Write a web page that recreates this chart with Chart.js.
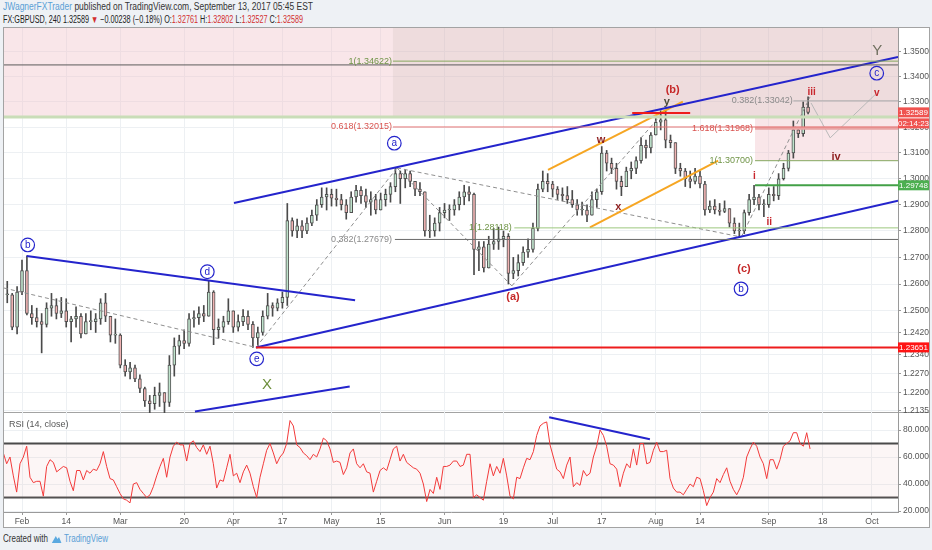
<!DOCTYPE html>
<html>
<head>
<meta charset="utf-8">
<title>GBPUSD 240</title>
<script src="https://cdn.jsdelivr.net/npm/chart.js@4.4.1/dist/chart.umd.min.js"></script>
<style>
  html, body { margin:0; padding:0; }
  body { width:932px; height:550px; overflow:hidden; background:#eef1f5; position:relative; font-family:"Liberation Sans", Arial, sans-serif; }
  .hdr { position:absolute; left:3px; white-space:nowrap; font-size:10px; line-height:12px; color:#333; transform-origin:0 50%; }
  #h1 { top:1px; }
  #h2 { top:14px; color:#222; }
  .blue { color:#5a9fd6; }
  .red { color:#d32f2f; }
  #frame { position:absolute; left:3px; top:27px; width:925px; height:499px; background:#fff; border:1px solid #a3a3a3; }
  #sep { position:absolute; left:3px; top:412px; width:926px; height:1px; background:#a3a3a3; }
  canvas { position:absolute; left:0; }
  #main { top:28px; }
  #rsi { top:413px; }
  #foot { position:absolute; left:3px; top:533px; font-size:10px; line-height:12px; color:#333; white-space:nowrap; transform-origin:0 50%; }
  #foot svg { vertical-align:-2px; margin:0 2px 0 4px; }
</style>
</head>
<body>
<div id="h1" class="hdr"><span class="blue">JWagnerFXTrader</span> published on TradingView.com, September 13, 2017 05:45 EST</div>
<div id="h2" class="hdr">FX:GBPUSD, 240 1.32589 <span class="red">&#9660;</span> &minus;0.00238 (&minus;0.18%) O:<span class="red">1.32761</span> H:<span class="red">1.32802</span> L:<span class="red">1.32527</span> C:<span class="red">1.32589</span></div>
<div id="frame"></div>
<div id="sep"></div>
<canvas id="main" width="929" height="385"></canvas>
<canvas id="rsi" width="929" height="114"></canvas>
<div id="foot">Created with<svg width="14" height="10" viewBox="0 0 14 10"><path d="M1 9 L6 2 L8 5 L10 3 L13 9 Z" fill="#5aa9e0"/></svg><span class="blue">TradingView</span></div>
<script>
// ---------------- DATA ----------------
// Daily bars (trading-day index, 0 = 1 Feb 2017)
const firstDay = -3;
const highs = [
1.2610,1.2565,1.2590,1.2690,1.2706,1.2520,1.2510,1.2490,1.2530,1.2565,
1.2545,1.2550,1.2545,1.2480,1.2515,1.2490,1.2490,1.2500,1.2490,1.2545,
1.2565,1.2480,1.2470,1.2415,1.2320,1.2310,1.2300,1.2265,1.2220,1.2190,
1.2220,1.2235,1.2200,1.2335,1.2400,1.2410,1.2430,1.2490,1.2500,1.2515,
1.2520,1.2610,1.2575,1.2470,1.2480,1.2545,1.2500,1.2485,1.2505,1.2500,
1.2460,1.2440,1.2500,1.2565,1.2530,1.2545,1.2570,1.2905,1.2850,1.2845,
1.2840,1.2850,1.2880,1.2920,1.2965,1.2965,1.2960,1.2960,1.2940,1.2920,
1.2950,1.2975,1.2970,1.2960,1.2950,1.2940,1.2945,1.2960,1.2985,1.3040,
1.3030,1.3035,1.3030,1.2990,1.2985,1.2950,1.2860,1.2850,1.2890,1.2905,
1.2900,1.2920,1.2950,1.2975,1.2970,1.2945,1.2760,1.2760,1.2780,1.2810,
1.2815,1.2800,1.2790,1.2700,1.2710,1.2740,1.2770,1.2830,1.2980,1.3030,
1.3020,1.2990,1.2970,1.2965,1.2970,1.2955,1.2920,1.2910,1.2900,1.2950,
1.2960,1.3125,1.3110,1.3080,1.3060,1.3010,1.3045,1.3065,1.3085,1.3160,
1.3150,1.3180,1.3240,1.3265,1.3267,1.3170,1.3110,1.3060,1.3040,1.3030,
1.3040,1.3030,1.2990,1.2915,1.2920,1.2905,1.2915,1.2880,1.2850,1.2830,
1.2880,1.2940,1.2975,1.2940,1.2920,1.2965,1.2970,1.3020,1.3060,1.3110,
1.3225,1.3200,1.3300,1.3320
];
const lows = [
1.2530,1.2430,1.2415,1.2560,1.2485,1.2450,1.2440,1.2345,1.2440,1.2480,
1.2470,1.2475,1.2440,1.2385,1.2440,1.2400,1.2420,1.2430,1.2420,1.2450,
1.2460,1.2385,1.2380,1.2290,1.2260,1.2250,1.2240,1.2200,1.2150,1.2120,
1.2140,1.2150,1.2115,1.2150,1.2260,1.2340,1.2360,1.2370,1.2440,1.2450,
1.2460,1.2490,1.2375,1.2400,1.2420,1.2450,1.2420,1.2425,1.2445,1.2430,
1.2365,1.2370,1.2410,1.2470,1.2480,1.2500,1.2510,1.2520,1.2780,1.2775,
1.2775,1.2790,1.2820,1.2840,1.2890,1.2880,1.2895,1.2895,1.2880,1.2845,
1.2870,1.2910,1.2905,1.2890,1.2860,1.2865,1.2880,1.2895,1.2910,1.2950,
1.2905,1.2965,1.2970,1.2935,1.2935,1.2780,1.2775,1.2780,1.2800,1.2850,
1.2840,1.2860,1.2880,1.2900,1.2915,1.2635,1.2650,1.2645,1.2680,1.2730,
1.2730,1.2740,1.2600,1.2620,1.2630,1.2670,1.2700,1.2720,1.2800,1.2950,
1.2950,1.2930,1.2920,1.2915,1.2905,1.2890,1.2860,1.2860,1.2835,1.2860,
1.2890,1.2940,1.3030,1.3020,1.2960,1.2935,1.2980,1.3000,1.3020,1.3060,
1.3080,1.3100,1.3180,1.3190,1.3120,1.3120,1.3020,1.3010,1.2970,1.2965,
1.2980,1.2965,1.2860,1.2870,1.2865,1.2860,1.2870,1.2815,1.2790,1.2775,
1.2790,1.2860,1.2900,1.2880,1.2855,1.2890,1.2915,1.2920,1.2995,1.3030,
1.3080,1.3160,1.3165,1.3253
];
const closes = [
1.2560,1.2440,1.2570,1.2650,1.2490,1.2475,1.2460,1.2450,1.2510,1.2520,
1.2490,1.2500,1.2460,1.2470,1.2480,1.2415,1.2460,1.2460,1.2470,1.2530,
1.2480,1.2410,1.2410,1.2300,1.2275,1.2290,1.2250,1.2215,1.2170,1.2160,
1.2190,1.2200,1.2165,1.2300,1.2370,1.2390,1.2380,1.2470,1.2475,1.2490,
1.2480,1.2570,1.2430,1.2440,1.2460,1.2500,1.2440,1.2460,1.2480,1.2450,
1.2400,1.2420,1.2480,1.2520,1.2510,1.2530,1.2550,1.2840,1.2800,1.2820,
1.2800,1.2830,1.2860,1.2900,1.2930,1.2940,1.2925,1.2920,1.2900,1.2870,
1.2930,1.2955,1.2935,1.2910,1.2920,1.2880,1.2920,1.2940,1.2970,1.3020,
1.3000,1.3020,1.2990,1.2960,1.2950,1.2800,1.2800,1.2830,1.2870,1.2880,
1.2880,1.2900,1.2930,1.2950,1.2940,1.2730,1.2740,1.2660,1.2750,1.2760,
1.2770,1.2780,1.2640,1.2650,1.2680,1.2720,1.2730,1.2810,1.2960,1.2990,
1.2980,1.2960,1.2940,1.2935,1.2920,1.2900,1.2880,1.2880,1.2860,1.2920,
1.2950,1.3100,1.3060,1.3040,1.2990,1.2970,1.3030,1.3040,1.3070,1.3130,
1.3120,1.3170,1.3220,1.3230,1.3150,1.3140,1.3040,1.3030,1.3000,1.2990,
1.3010,1.2980,1.2880,1.2895,1.2880,1.2875,1.2885,1.2830,1.2800,1.2800,
1.2870,1.2920,1.2930,1.2900,1.2900,1.2940,1.2935,1.3000,1.3040,1.3100,
1.3190,1.3175,1.3280,1.3259
];
// RSI(14) samples, read along the pane
const rsiStartDay = -3.8;
const rsiStepDays = 0.6785;
const rsiValues = [
63,55,60,46,34,55,60,68,45,41,
42,42,31,53,58,56,49,51,53,52,
42,35,50,50,43,50,48,51,50,55,
64,53,44,43,38,33,29,28,26,40,
41,36,33,30,32,38,46,53,59,45,
60,68,71,69,69,57,70,72,67,64,
69,62,68,55,37,43,42,52,62,46,
48,41,49,54,48,38,30,45,55,65,
70,63,55,60,63,70,87,83,69,67,
63,61,58,62,60,66,74,72,66,56,
57,56,47,52,63,66,55,52,55,49,
48,34,42,50,52,50,58,66,68,57,
62,56,
54,52,51,48,40,27,36,33,45,36,
53,53,54,57,57,53,54,62,62,30,
32,30,28,42,55,46,53,48,59,46,
31,29,45,44,52,59,58,64,76,83,
85,86,69,60,51,49,44,54,60,38,
41,39,50,46,48,60,68,80,76,68,
55,54,51,38,48,55,52,66,54,70,
70,55,56,65,71,64,64,65,44,37,
34,34,32,36,40,38,45,44,35,24,
30,34,44,41,47,52,42,36,32,37,
45,60,66,71,68,60,55,44,58,58,
51,58,68,70,72,78,78,70,68,78,
66
];
// Axis ticks
const timeTickDays = [0,9,20,33,43,53,63,73,86,98,108,118,129,138,152,163,173];
const timeTickLabels = ['Feb','14','Mar','20','Apr','17','May','15','Jun','19','Jul','17','Aug','14','Sep','18','Oct'];
const priceTicks = [1.35,1.34,1.33,1.32,1.31,1.30,1.29,1.28,1.27,1.26,1.25,1.242,1.234,1.227,1.22,1.2135];
const rsiTicks = [20,40,60,80];
const dayMin = -3.664, dayMax = 178.3;
const priceMin = 1.21265, priceMax = 1.35953;
const rsiMin = 19.26, rsiMax = 92.6;

// Drawings (day index, price)
const trendLines = [
  {kind:'channel', pts:[[43.15,1.2907],[178.3,1.3479]]},
  {kind:'channel', pts:[[47.63,1.2365],[178.3,1.2916]]},
  {kind:'channel', pts:[[0.96,1.2705],[67.8,1.2539]]},
  {kind:'channel', pts:[[35.2,1.2132],[66.7,1.2222]]},
  {kind:'orange', pts:[[107.06,1.3034],[134.5,1.3301]]},
  {kind:'orange', pts:[[115.6,1.2814],[141.7,1.3070]]},
  {kind:'dashed', pts:[[-3.66,1.2585],[47.63,1.2365]]},
  {kind:'dashed', pts:[[47.63,1.2365],[76.33,1.3042]]},
  {kind:'dashed', pts:[[76.33,1.3042],[146.4,1.2777]]},
  {kind:'dashed', pts:[[76.33,1.3042],[99.7,1.2593]]},
  {kind:'dashed', pts:[[99.7,1.2593],[130.9,1.3267]]},
  {kind:'dashed', pts:[[146.4,1.2777],[160.4,1.3320]]},
  {kind:'projection', pts:[[160.6,1.3296],[164.5,1.3159],[173.6,1.3328]]}
];
const levels = [
  {kind:'dark', from:dayMin, price:1.3447},
  {kind:'band', from:dayMin, price:1.3241},
  {kind:'fibOlive', from:75.5, price:1.34622},
  {kind:'fibRed', from:75.5, price:1.32015},
  {kind:'fibDark', from:75.9, price:1.27679},
  {kind:'fibGreen', from:100.2, price:1.28118},
  {kind:'fibGray', from:157.0, price:1.33042},
  {kind:'fibRedThick', from:149.2, price:1.31968},
  {kind:'fibOlive', from:149.2, price:1.30700},
  {kind:'green', from:149.2, price:1.29748},
  {kind:'red', from:47.63, price:1.23651},
  {kind:'red', from:124.2, to:136.0, price:1.32565}
];
const zones = [
  {kind:'pink', d0:dayMin, d1:dayMax, p0:1.3241, p1:priceMax},
  {kind:'shade', d0:75.5, d1:dayMax, p0:1.3241, p1:priceMax},
  {kind:'pink', d0:149.2, d1:dayMax, p0:1.3070, p1:1.3241}
];
const fibLabels = [
  {text:'1(1.34622)', day:75.3, price:1.34622, kind:'olive'},
  {text:'0.618(1.32015)', day:75.3, price:1.32015, kind:'red'},
  {text:'0.382(1.27679)', day:75.3, price:1.27679, kind:'gray'},
  {text:'1(1.28118)', day:99.7, price:1.28118, kind:'olive'},
  {text:'0.382(1.33042)', day:156.9, price:1.33042, kind:'gray'},
  {text:'1.618(1.31968)', day:148.8, price:1.31968, kind:'red'},
  {text:'1(1.30700)', day:148.8, price:1.30700, kind:'olive'}
];
const waveLabels = [
  {text:'b', kind:'circle', day:1.16, price:1.2747},
  {text:'d', kind:'circle', day:37.72, price:1.2646},
  {text:'e', kind:'circle', day:47.77, price:1.2323},
  {text:'a', kind:'circle', day:75.78, price:1.3138},
  {text:'b', kind:'circle', day:146.35, price:1.2582},
  {text:'c', kind:'circle', day:173.97, price:1.3414},
  {text:'(a)', kind:'paren', day:99.94, price:1.2552},
  {text:'(b)', kind:'paren', day:132.44, price:1.3349},
  {text:'(c)', kind:'paren', day:146.96, price:1.2656},
  {text:'y', kind:'dark', day:131.22, price:1.3300},
  {text:'w', kind:'minor', day:117.85, price:1.3151},
  {text:'x', kind:'minor', day:121.37, price:1.2893},
  {text:'i', kind:'roman', day:149.05, price:1.3011},
  {text:'ii', kind:'roman', day:152.1, price:1.2832},
  {text:'iii', kind:'roman', day:160.74, price:1.3338},
  {text:'iv', kind:'minor', day:165.68, price:1.3084},
  {text:'v', kind:'roman', day:173.97, price:1.3334},
  {text:'Y', kind:'bigGray', day:174.1, price:1.3502},
  {text:'X', kind:'bigGreen', day:49.87, price:1.2228}
];
const axisBadges = [
  {text:'1.32589', price:1.32589, kind:'last', sub:'02:14:23'},
  {text:'1.29748', price:1.29748, kind:'green'},
  {text:'1.23651', price:1.23651, kind:'red'}
];
const rsiLevels = [70, 30];
const rsiTrend = [[107.3, 89.4], [127.8, 73.1]];

// ---------------- STYLES ----------------
const FONT = '"Liberation Sans", Arial, sans-serif';
Chart.defaults.font.family = FONT;
const lineStyles = {
  channel:{color:'#2424cc', width:2},
  orange:{color:'#f6a623', width:2},
  dashed:{color:'#8f8f8f', width:1, dash:[4,3]},
  projection:{color:'#b8b8b8', width:1},
  dark:{color:'#5c5c5c', width:1},
  band:{color:'#c9ddb8', width:3},
  fibOlive:{color:'#86a85f', width:1},
  fibGreen:{color:'#9cc77e', width:1},
  fibRed:{color:'#e57373', width:1},
  fibRedThick:{color:'#e9a3a3', width:3},
  fibGray:{color:'#a8a8a8', width:1},
  fibDark:{color:'#6a6a6a', width:1},
  green:{color:'#43a047', width:2},
  red:{color:'#ee1c1c', width:2}
};
const zoneColors = { pink:'rgba(240,196,202,0.42)', shade:'rgba(150,140,120,0.10)' };
const fibColors = { olive:'#6f9447', red:'#d9534f', gray:'#8a8a8a' };
const waveStyles = {
  paren:{color:'#c62828', font:'bold 11px '+FONT},
  minor:{color:'#8e1f1f', font:'bold 11px '+FONT},
  roman:{color:'#c8262d', font:'bold 10px '+FONT},
  dark:{color:'#4a4a3a', font:'bold 11px '+FONT},
  bigGray:{color:'#707060', font:'15px '+FONT},
  bigGreen:{color:'#6d8f3c', font:'15px '+FONT},
  circle:{color:'#2424cc', font:'10px '+FONT}
};
const badgeColors = { last:'#ef5350', green:'#4caf50', red:'#ff1414' };
const GRID = '#edf0f3';

// ---------------- BUILD ----------------
const candleDays = closes.map((_, i) => firstDay + i);
const opens = closes.map((c, i) => (i === 0 ? c : closes[i - 1]));
const wickData = candleDays.map((d, i) => ({x:d, y:[Math.min(lows[i], opens[i], closes[i]), Math.max(highs[i], opens[i], closes[i])]}));
const bodyData = candleDays.map((d, i) => ({x:d, y:[opens[i], closes[i]]}));
const bodyFill = closes.map((c, i) => c >= opens[i] ? '#bfe3cc' : '#f0b3b3');

function lineDS(pts, st, yAxis) {
  return {type:'line', data:pts.map(p => ({x:p[0], y:p[1]})), borderColor:st.color, borderWidth:st.width,
    borderDash:st.dash || [], pointRadius:0, tension:0, fill:false, order:1, yAxisID:yAxis || 'y'};
}
const mainSets = [];
levels.forEach(l => mainSets.push(lineDS([[l.from, l.price], [l.to !== undefined ? l.to : dayMax, l.price]], lineStyles[l.kind])));
trendLines.forEach(t => mainSets.push(lineDS(t.pts, lineStyles[t.kind])));
mainSets.push({type:'bar', data:bodyData, backgroundColor:bodyFill, borderColor:'#505050', borderWidth:1, borderSkipped:false,
  barThickness:3, grouped:false, minBarLength:1, order:5});
mainSets.push({type:'bar', data:wickData, backgroundColor:'#4a4a4a', barThickness:1, grouped:false, order:6});

const annotPlugin = {
  id:'annot',
  beforeDatasetsDraw(chart) {
    const {ctx, chartArea:a, scales:{x, y}} = chart;
    ctx.save();
    ctx.beginPath(); ctx.rect(a.left, a.top, a.width, a.height); ctx.clip();
    zones.forEach(z => {
      const x0 = x.getPixelForValue(z.d0), x1 = x.getPixelForValue(z.d1);
      const y0 = y.getPixelForValue(z.p1), y1 = y.getPixelForValue(z.p0);
      ctx.fillStyle = zoneColors[z.kind];
      ctx.fillRect(x0, y0, x1 - x0, y1 - y0);
    });
    ctx.restore();
  },
  afterDatasetsDraw(chart) {
    const {ctx, chartArea:a, scales:{x, y}} = chart;
    ctx.save();
    ctx.beginPath(); ctx.rect(a.left, a.top, a.width, a.height); ctx.clip();
    ctx.textBaseline = 'middle';
    ctx.font = '9px ' + FONT;
    ctx.textAlign = 'right';
    fibLabels.forEach(f => {
      ctx.fillStyle = fibColors[f.kind];
      ctx.fillText(f.text, x.getPixelForValue(f.day), y.getPixelForValue(f.price));
    });
    ctx.textAlign = 'center';
    waveLabels.forEach(w => {
      const st = waveStyles[w.kind];
      const px = x.getPixelForValue(w.day), py = y.getPixelForValue(w.price);
      if (w.kind === 'circle') {
        ctx.beginPath(); ctx.arc(px, py, 6.8, 0, Math.PI * 2);
        ctx.strokeStyle = st.color; ctx.lineWidth = 1.2; ctx.stroke();
        ctx.fillStyle = st.color; ctx.font = st.font;
        ctx.fillText(w.text, px, py + 0.5);
      } else {
        ctx.fillStyle = st.color; ctx.font = st.font;
        ctx.fillText(w.text, px, py);
      }
    });
    ctx.restore();
  },
  afterDraw(chart) {
    const {ctx, chartArea:a, scales:{y}} = chart;
    ctx.save();
    ctx.font = '8px ' + FONT;
    ctx.textBaseline = 'middle';
    ctx.textAlign = 'center';
    const cx = (a.right + chart.width) / 2;
    axisBadges.forEach(b => {
      const py = y.getPixelForValue(b.price);
      ctx.fillStyle = badgeColors[b.kind];
      ctx.fillRect(a.right, py - 5, chart.width - a.right, 10);
      ctx.fillStyle = '#fff';
      ctx.fillText(b.text, cx, py + 0.5);
      if (b.sub) {
        ctx.fillStyle = badgeColors[b.kind];
        ctx.fillRect(a.right, py + 6, chart.width - a.right, 10);
        ctx.fillStyle = '#fff';
        ctx.fillText(b.sub, cx, py + 11.5);
      }
    });
    ctx.restore();
  }
};

function noPad(s) { s.paddingTop = 0; s.paddingBottom = 0; s.paddingLeft = 0; s.paddingRight = 0; }
const xCommon = {
  type:'linear', min:dayMin, max:dayMax, offset:false, bounds:'data',
  afterBuildTicks: s => { s.ticks = timeTickDays.map(v => ({value:v})); s.min = dayMin; s.max = dayMax; }
};

new Chart(document.getElementById('main'), {
  type:'bar',
  data:{datasets:mainSets},
  options:{
    responsive:false, animation:false, events:[],
    layout:{padding:{left:4, right:0, top:0, bottom:0}},
    plugins:{legend:{display:false}, tooltip:{enabled:false}},
    scales:{
      x:Object.assign({}, xCommon, {
        ticks:{display:false}, grid:{color:GRID, drawTicks:false, offset:false}, border:{display:false},
        afterFit: s => { s.height = 0; noPad(s); }
      }),
      y:{
        type:'logarithmic', position:'right', min:priceMin, max:priceMax, beginAtZero:false, bounds:'data',
        afterBuildTicks: s => { s.ticks = priceTicks.map(v => ({value:v})); s.min = priceMin; s.max = priceMax; },
        afterFit: s => { s.width = 31; noPad(s); },
        ticks:{callback: v => Number(v).toFixed(5), font:{size:8.5}, color:'#555', padding:2, autoSkip:false},
        grid:{color:GRID, tickLength:3, tickColor:'#999'},
        border:{color:'#9a9a9a'}
      }
    }
  },
  plugins:[annotPlugin]
});

const rsiLabelPlugin = {
  id:'rsiLabel',
  afterDraw(chart) {
    const {ctx, chartArea:a} = chart;
    ctx.save();
    ctx.font = '9px ' + FONT; ctx.fillStyle = '#555'; ctx.textBaseline = 'middle'; ctx.textAlign = 'left';
    ctx.fillText('RSI (14, close)', a.left + 5, a.top + 12);
    ctx.restore();
  }
};

new Chart(document.getElementById('rsi'), {
  type:'line',
  data:{datasets:[
    {data:rsiValues.map((v, i) => ({x:rsiStartDay + i * rsiStepDays, y:v})), borderColor:'#f23a3a', borderWidth:1,
      pointRadius:0, tension:0, fill:false, order:1},
    {data:[{x:dayMin, y:rsiLevels[0]}, {x:dayMax, y:rsiLevels[0]}], borderColor:'#4a4a4a', borderWidth:2, pointRadius:0,
      fill:{value:rsiLevels[1]}, backgroundColor:'rgba(236,190,190,0.14)', order:3},
    {data:[{x:dayMin, y:rsiLevels[1]}, {x:dayMax, y:rsiLevels[1]}], borderColor:'#4a4a4a', borderWidth:2, pointRadius:0, fill:false, order:3},
    {data:rsiTrend.map(p => ({x:p[0], y:p[1]})), borderColor:'#2424cc', borderWidth:2, pointRadius:0, fill:false, order:0}
  ]},
  options:{
    responsive:false, animation:false, events:[],
    layout:{padding:{left:4, right:0, top:0, bottom:0}},
    plugins:{legend:{display:false}, tooltip:{enabled:false}},
    scales:{
      x:Object.assign({}, xCommon, {
        ticks:{callback:(v, i) => timeTickLabels[i], font:{size:8.5}, color:'#555', padding:2, maxRotation:0, autoSkip:false},
        grid:{color:GRID, tickLength:3, tickColor:'#999'},
        border:{color:'#9a9a9a'},
        afterFit: s => { s.height = 15; noPad(s); }
      }),
      y:{
        type:'linear', position:'right', min:rsiMin, max:rsiMax, bounds:'data',
        afterBuildTicks: s => { s.ticks = rsiTicks.map(v => ({value:v})); s.min = rsiMin; s.max = rsiMax; },
        afterFit: s => { s.width = 31; noPad(s); },
        ticks:{callback: v => Number(v).toFixed(4), font:{size:8.5}, color:'#555', padding:2, autoSkip:false},
        grid:{color:GRID, tickLength:3, tickColor:'#999'},
        border:{color:'#9a9a9a'}
      }
    }
  },
  plugins:[rsiLabelPlugin]
});

// fit header / footer text widths to the snapshot layout
function fitWidth(id, target) {
  const el = document.getElementById(id);
  const w = el.getBoundingClientRect().width;
  if (w > 0) el.style.transform = 'scaleX(' + (target / w) + ')';
}
fitWidth('h1', 310);
fitWidth('h2', 300);
fitWidth('foot', 105);
</script>
</body>
</html>
